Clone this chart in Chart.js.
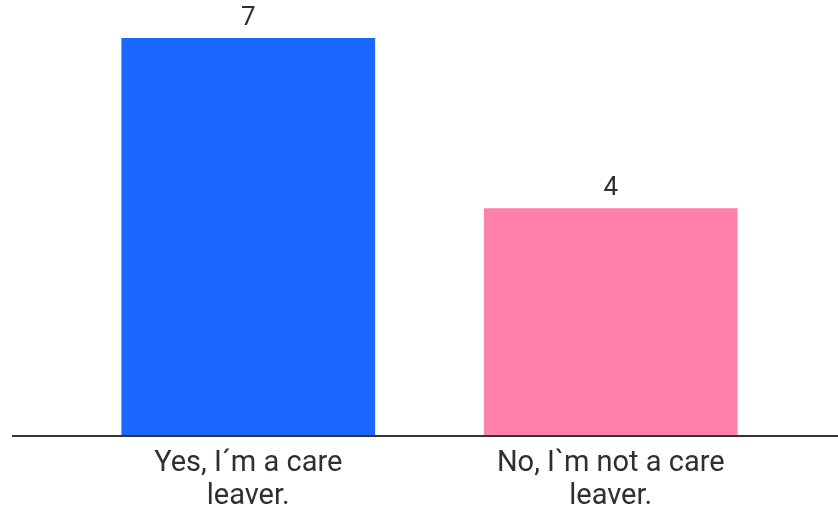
<!DOCTYPE html>
<html>
<head>
<meta charset="utf-8">
<script src="https://cdn.jsdelivr.net/npm/chart.js@4"></script>
<style>
  body { margin: 0; background: #fff; }
  #wrap { width: 838px; height: 511px; position: relative; }
</style>
</head>
<body>
<div id="wrap"><canvas id="careChart"></canvas></div>
<script>
"use strict";

let categories = [["Yes, I´m a care", "leaver."], ["No, I`m not a care", "leaver."]];
let counts = [7, 4];
let barColors = ["#1a68ff", "#ff80a8"];

// long baseline under the bars plus the count above each bar
let baselineAndValues = {
    id: "baselineAndValues",
    afterDatasetsDraw(chart) {
        let ctx = chart.ctx;
        let area = chart.chartArea;
        ctx.save();
        ctx.strokeStyle = "#33343a";
        ctx.lineWidth = 2;
        ctx.beginPath();
        ctx.moveTo(12, area.bottom + 1);
        ctx.lineTo(chart.width, area.bottom + 1);
        ctx.stroke();

        ctx.fillStyle = "#2e2f36";
        ctx.font = "26px Roboto, 'Noto Sans', sans-serif";
        ctx.textAlign = "center";
        ctx.textBaseline = "bottom";
        chart.getDatasetMeta(0).data.forEach((bar, i) => {
            ctx.fillText(String(counts[i]), bar.x, bar.y - 7);
        });
        ctx.restore();
    }
};

let ctx = document.getElementById("careChart").getContext("2d");
window.careChart = new Chart(ctx, {
    type: "bar",
    data: {
        labels: categories,
        datasets: [{
            data: counts,
            backgroundColor: barColors,
            borderWidth: 0,
            barPercentage: 0.7,
            categoryPercentage: 1
        }]
    },
    options: {
        responsive: true,
        maintainAspectRatio: false,
        animation: false,
        layout: {
            padding: { top: 38, left: 67, right: 46, bottom: 0 }
        },
        plugins: {
            legend: { display: false },
            tooltip: { enabled: false }
        },
        scales: {
            x: {
                grid: { display: false, drawTicks: false },
                border: { display: false },
                ticks: {
                    color: "#2e2f36",
                    padding: 12,
                    font: { family: "Roboto, 'Noto Sans', sans-serif", size: 29, lineHeight: 1.15 }
                },
                afterFit(scale) {
                    scale.height = 76;
                }
            },
            y: {
                display: false,
                min: 0,
                max: 7
            }
        }
    },
    plugins: [baselineAndValues]
});
</script>
</body>
</html>
